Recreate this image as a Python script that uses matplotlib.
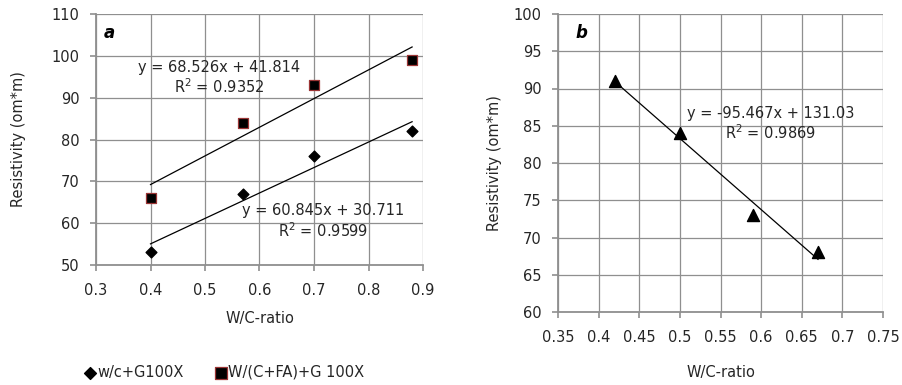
import numpy as np
import matplotlib
matplotlib.use("Agg")
import matplotlib.pyplot as plt

# panel a
wc_a = [0.4, 0.57, 0.7, 0.88]
res_g100x = [53, 67, 76, 82]
res_fa_g100x = [66, 84, 93, 99]
# panel b
wc_b = [0.42, 0.5, 0.59, 0.67]
res_b = [91, 84, 73, 68]

label_1 = "w/c+G100X"
label_2 = "W/(C+FA)+G 100X"
eq_a1 = "y = 68.526x + 41.814\nR$^2$ = 0.9352"
eq_a2 = "y = 60.845x + 30.711\nR$^2$ = 0.9599"
eq_b = "y = -95.467x + 131.03\nR$^2$ = 0.9869"

plt.rcParams['font.family'] = ['DejaVu Sans']
grid_c = '#8f8f8f'
txt_c = '#262626'
fs = 10.5

fig = plt.figure(figsize=(9.03, 3.85), dpi=100)
ax1 = fig.add_axes([96/903, 1-265/385, 327/903, 251/385])
ax2 = fig.add_axes([558/903, 1-312/385, 325/903, 298/385])


def style(ax, xpad, ypad):
    ax.grid(True, color=grid_c, lw=0.9)
    ax.set_axisbelow(True)
    for s in ['top', 'right']:
        ax.spines[s].set_visible(False)
    for s in ['left', 'bottom']:
        ax.spines[s].set_color(grid_c)
        ax.spines[s].set_linewidth(1.3)
    ax.tick_params(direction='out', length=4, width=1.2, color=grid_c,
                   labelsize=fs, labelcolor=txt_c)
    ax.tick_params(axis='x', pad=9)
    ax.tick_params(axis='y', pad=8)
    ax.set_xlabel("W/C-ratio", fontsize=fs, color=txt_c, labelpad=xpad)
    ax.set_ylabel("Resistivity (om*m)", fontsize=fs, color=txt_c, labelpad=ypad)


def trend(ax, x, y):
    k, b = np.polyfit(x, y, 1)
    xs = np.array([min(x), max(x)])
    ax.plot(xs, k * xs + b, color='black', lw=0.9, zorder=2)


# panel a
style(ax1, 9, 18)
trend(ax1, wc_a, res_fa_g100x)
trend(ax1, wc_a, res_g100x)
ax1.scatter(wc_a, res_g100x, marker='D', s=30, color='black', zorder=3, label=label_1)
ax1.scatter(wc_a, res_fa_g100x, marker='s', s=60, color='black',
            edgecolors='#9b3535', linewidths=0.9, zorder=3, label=label_2)
ax1.set_xlim(0.3, 0.9)
ax1.set_ylim(50, 110)
ax1.set_xticks(np.arange(0.3, 0.91, 0.1))
ax1.set_xticklabels(['0.3', '0.4', '0.5', '0.6', '0.7', '0.8', '0.9'])
ax1.set_yticks(range(50, 111, 10))
ax1.text(0.526, 94.6, eq_a1, ha='center', va='center', fontsize=fs,
         color=txt_c, linespacing=1.15)
ax1.text(0.716, 60.4, eq_a2, ha='center', va='center', fontsize=fs,
         color=txt_c, linespacing=1.15)
ax1.text(0.314, 105.5, "a", fontsize=12, fontweight='bold', style='italic',
         va='center')

fig.legend(loc='center left', bbox_to_anchor=(70/903, 1-372/385), ncol=2,
           frameon=False, fontsize=fs, handletextpad=0.0, columnspacing=2.0,
           handlelength=1.0, labelcolor=txt_c, markerscale=1.1)

# panel b
style(ax2, 14, 8)
trend(ax2, wc_b, res_b)
ax2.scatter(wc_b, res_b, marker='^', s=75, color='black', zorder=3)
ax2.set_xlim(0.35, 0.75)
ax2.set_ylim(60, 100)
ax2.set_xticks(np.arange(0.35, 0.751, 0.05))
ax2.set_xticklabels(['0.35', '0.4', '0.45', '0.5', '0.55', '0.6', '0.65', '0.7', '0.75'])
ax2.set_yticks(range(60, 101, 5))
ax2.text(0.612, 85.2, eq_b, ha='center', va='center', fontsize=fs,
         color=txt_c, linespacing=1.15)
ax2.text(0.372, 97.4, "b", fontsize=12, fontweight='bold', style='italic',
         va='center')

fig.savefig("out.png", dpi=100)
